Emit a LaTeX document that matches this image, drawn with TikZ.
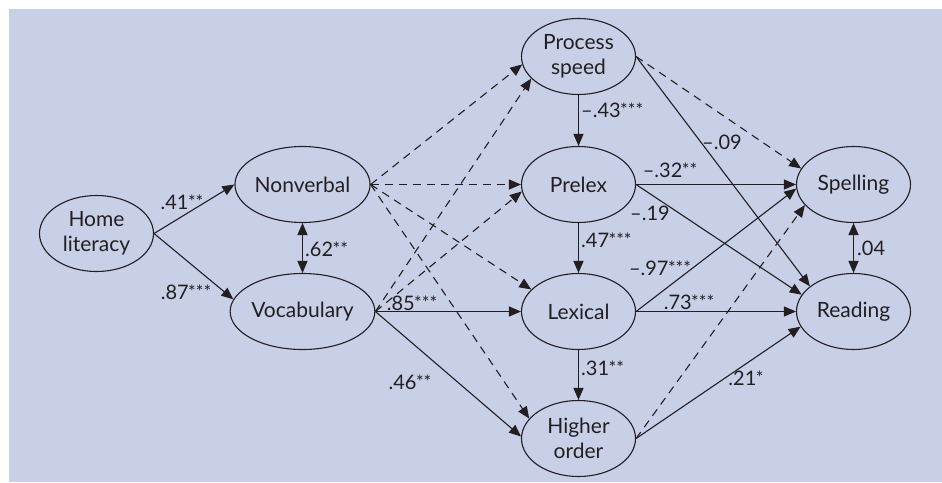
\documentclass[tikz,border=0pt]{standalone}
\usepackage{fontspec}
\setmainfont{Lato}
\usetikzlibrary{shapes.geometric,arrows.meta}
\definecolor{bgblue}{RGB}{200,208,232}
\definecolor{ink}{RGB}{35,31,32}
\newcommand{\sig}[1]{{\fontsize{18}{18}\selectfont\kern-0.5pt\raisebox{1pt}{#1}}}
\tikzset{
  var/.style={ellipse, draw=ink, line width=1.1pt, minimum width=114pt, minimum height=76pt, inner sep=0pt, align=center, font=\fontsize{21}{25}\selectfont, text=ink},
  lbl/.style={font=\fontsize{20}{22}\selectfont, text=ink, inner sep=0pt},
  arr/.style={draw=ink, line width=1.1pt, -{Triangle[length=12pt,width=10pt]}},
  darr/.style={draw=ink, line width=1.1pt, {Triangle[length=12pt,width=10pt]}-{Triangle[length=12pt,width=10pt]}},
  dasharr/.style={arr, dash pattern=on 8pt off 6pt},
}
\begin{document}
\begin{tikzpicture}[x=1pt,y=-1pt]
\useasboundingbox (0,0) rectangle (942,482);
\fill[white] (0,0) rectangle (942,482);
\fill[bgblue] (9,9) rectangle (942,482);

\node[var] (home) at (96.5,233.5) {Home\\literacy};
\node[var] (nonverbal) at (302.5,184.5) {Nonverbal};
\node[var] (vocab) at (302.5,311.5) {Vocabulary};
\node[var] (process) at (578.5,56.5) {Process\\speed};
\node[var] (prelex) at (578.5,184.5) {Prelex};
\node[var] (lexical) at (578.5,311.5) {Lexical};
\node[var] (higher) at (578.5,438.5) {Higher\\order};
\node[var] (spelling) at (853.5,184.5) {Spelling};
\node[var] (reading) at (853.5,311.5) {Reading};

% dashed paths
\draw[dasharr] (nonverbal.east) -- (process.188);
\draw[dasharr] (nonverbal.east) -- (prelex.180);
\draw[dasharr] (nonverbal.east) -- (lexical.155);
\draw[dasharr] (nonverbal.east) -- (higher.158);
\draw[dasharr] (vocab.east) -- (process.205);
\draw[dasharr] (vocab.east) -- (prelex.187);
\draw[dasharr] (process.east) -- (spelling.163);
\draw[dasharr] (higher.east) -- (spelling.203);

% solid paths
\draw[arr] (home.east) -- (nonverbal.180);
\draw[arr] (home.east) -- (vocab.170);
\draw[darr] (nonverbal.south) -- (vocab.north);
\draw[arr] (process.south) -- (prelex.north);
\draw[arr] (prelex.south) -- (lexical.north);
\draw[arr] (lexical.south) -- (higher.north);
\draw[darr] (spelling.south) -- (reading.north);
\draw[arr] (vocab.east) -- (lexical.180);
\draw[arr] (vocab.east) -- (higher.178);
\draw[arr] (process.east) -- (reading.150);
\draw[arr] (prelex.east) -- (spelling.180);
\draw[arr] (prelex.east) -- (reading.162);
\draw[arr] (lexical.east) -- (spelling.184);
\draw[arr] (lexical.east) -- (reading.180);
\draw[arr] (higher.east) -- (reading.196);

% labels
\node[lbl] (l41) at (182,202) {.41\sig{**}};
\node[lbl] (l87) at (186,292) {.87\sig{***}};
\node[lbl,anchor=west] (l62) at (305,249) {.62\sig{**}};
\node[lbl,anchor=west] (l43) at (581,110) {--.43\sig{***}};
\node[lbl,anchor=west] (l47) at (581,240) {.47\sig{***}};
\node[lbl,anchor=west] (l31) at (581,368) {.31\sig{**}};
\node[lbl] (l85) at (412,303) {.85\sig{***}};
\node[lbl] (l46) at (410,382) {.46\sig{**}};
\node[lbl] (l09) at (722,142) {--.09};
\node[lbl] (l32) at (670,170) {--.32\sig{**}};
\node[lbl] (l19) at (650,213) {--.19};
\node[lbl] (l97) at (660,268) {--.97\sig{***}};
\node[lbl] (l73) at (689,302) {.73\sig{***}};
\node[lbl] (l21) at (746,378) {.21\sig{*}};
\node[lbl,anchor=west] (l04) at (857,248) {.04};
\end{tikzpicture}
\end{document}
